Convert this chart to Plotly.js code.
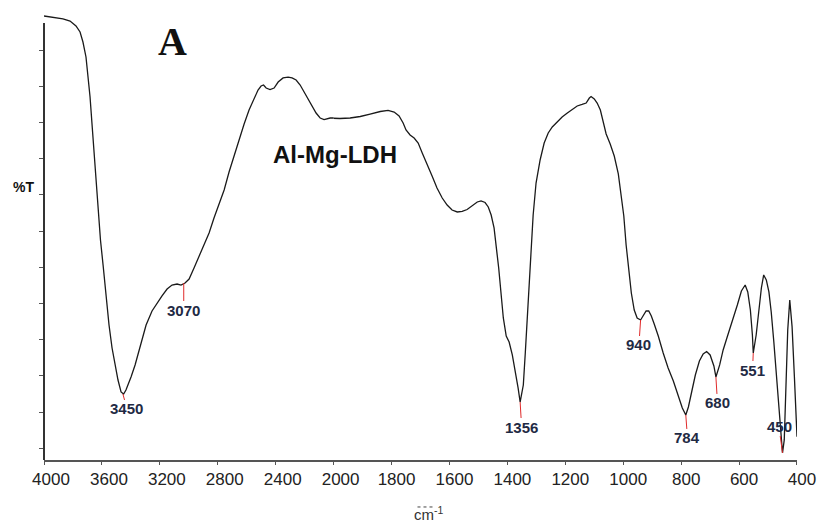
<!DOCTYPE html>
<html>
<head>
<meta charset="utf-8">
<script src="https://cdn.plot.ly/plotly-3.0.1.min.js"></script>
<style>html,body{margin:0;padding:0;background:#fff;}#chart{width:817px;height:522px;}</style>
</head>
<body>
<div id="chart"></div>
<script>
// Wavenumber (cm-1) and transmittance (arbitrary %T units)
var wavenumber = [4000,3869,3820,3779,3751,3731,3710,3696,3682,3668,3655,3637,3623,3610,3592,3572,3551,3530,3509,3489,3468,3450,3434,3420,3399,3371,3337,3295,3254,3219,3185,3150,3116,3081,3054,3026,2998,2964,2929,2895,2860,2826,2791,2756,2722,2687,2653,2618,2584,2549,2522,2501,2484,2466,2439,2411,2383,2349,2314,2287,2259,2231,2204,2176,2149,2121,2093,2066,2024,1978,1943,1908,1874,1839,1812,1791,1774,1760,1750,1736,1722,1708,1694,1677,1660,1643,1625,1608,1591,1573,1556,1539,1522,1504,1491,1477,1466,1456,1446,1437,1430,1423,1414,1404,1394,1383,1373,1363,1356,1345,1338,1332,1325,1318,1311,1301,1287,1273,1259,1245,1228,1211,1193,1176,1159,1142,1128,1117,1111,1100,1090,1079,1069,1059,1045,1031,1017,1007,998,990,981,972,962,952,940,931,921,912,903,893,879,862,845,827,810,796,784,775,763,751,737,724,712,700,687,680,667,655,641,624,606,592,579,570,561,554,551,541,532,523,515,506,497,489,480,472,463,456,450,444,437,432,425,417,409,400];
var transmittance = [59.71,59.30,59.02,58.33,57.50,56.12,54.05,51.56,48.52,44.65,40.92,36.09,32.22,28.77,25.32,21.17,17.03,13.85,11.51,9.43,7.78,7.50,8.05,8.74,9.85,11.51,13.99,17.03,18.96,20.07,21.04,22.00,22.55,22.69,22.55,22.83,23.38,24.90,26.56,27.94,29.74,31.81,33.88,35.68,38.16,40.51,42.58,44.79,46.73,48.38,49.49,50.04,50.18,49.76,49.56,49.76,50.59,51.15,51.28,51.15,50.87,50.18,49.21,48.25,47.28,46.31,45.62,45.41,45.62,45.55,45.62,45.83,46.17,46.52,46.66,46.45,45.90,44.93,43.96,43.27,42.86,42.17,40.79,39.27,37.61,35.95,34.57,33.60,32.91,32.64,32.71,32.98,33.47,34.02,34.16,33.95,33.33,32.22,30.43,27.67,24.90,21.86,18.00,15.51,14.68,12.89,10.81,8.33,6.39,8.74,13.30,17.72,21.86,26.28,32.22,36.64,39.82,42.17,43.55,44.38,45.07,45.76,46.31,46.86,47.28,47.49,47.69,48.38,48.59,48.25,47.69,46.73,45.21,43.41,42.03,40.37,37.89,34.99,32.09,28.08,24.63,21.45,19.10,18.00,17.72,18.27,18.96,18.96,18.27,17.17,15.51,13.16,11.09,9.30,7.22,5.57,4.60,5.70,7.91,10.12,12.06,13.02,13.37,12.89,11.37,9.85,11.51,13.58,15.37,17.44,19.79,21.73,22.55,21.59,19.10,15.65,13.16,15.65,18.83,22.14,23.94,23.25,21.59,18.83,14.68,10.81,6.67,2.80,-0.65,1.15,9.02,16.34,20.48,16.80,9.89,1.60];

var ticksHigh = [4000,3600,3200,2800,2400,2000];
var ticksLow = [1800,1600,1400,1200,1000,800,600,400];
var yTicks = [0,5,10,15,20,25,30,35,40,45,50,55];

var peakLabels = ['3450','3070','1356','940','784','680','551','450'];
var peakPos = [3455,3035,1356,940,784,680,551,450];

var sampleName = 'Al-Mg-LDH';
var panelLetter = 'A';
var yTitle = '%T';
var xTitle = 'cm<sup>-1</sup>';

// label offsets (px) relative to each peak marker
var labelOffsets = [[4,15],[0,27],[1.5,25],[-1.7,25],[1.7,23],[1.6,26],[-0.7,17],[-3.5,-26]];

function nearestT(w){
  var best=0, bd=1e9;
  for (var i=0;i<wavenumber.length;i++){
    var d=Math.abs(wavenumber[i]-w);
    if(d<bd){bd=d;best=i;}
  }
  return transmittance[best];
}

var lineStyle = {color:'#1a1a1a', width:1.3};
var traces = [
  {x:wavenumber, y:transmittance, type:'scatter', mode:'lines', line:lineStyle, xaxis:'x', yaxis:'y', hoverinfo:'skip'},
  {x:wavenumber, y:transmittance, type:'scatter', mode:'lines', line:lineStyle, xaxis:'x2', yaxis:'y', hoverinfo:'skip'}
];

var YMIN = -1.62, YMAX = 60.54;
var tickFont = {family:'Liberation Sans, Arial, sans-serif', size:17, color:'#222'};
var xCommon = {
  showline:true, linecolor:'#555', linewidth:1.5, ticks:'outside', ticklen:3, tickcolor:'#555', tickwidth:1,
  showgrid:false, zeroline:false, tickfont:tickFont, anchor:'y', fixedrange:true, ticklabeloverflow:'allow'
};

var annotations = [];
for (var i=0;i<peakLabels.length;i++){
  var w = peakPos[i];
  annotations.push({
    x:w, y:nearestT(w), xref: w>=2000?'x':'x2', yref:'y',
    text:peakLabels[i], showarrow:true, arrowhead:0, arrowwidth:1, arrowcolor:'#e02a2a',
    ax:labelOffsets[i][0], ay:labelOffsets[i][1], standoff:0, borderpad:0,
    font:{family:'Liberation Sans, Arial, sans-serif', size:15, color:'#1f2a44', weight:'bold'}
  });
}
annotations.push({xref:'paper', yref:'paper', x:0.170, y:0.929, xanchor:'center', yanchor:'middle', showarrow:false,
  text:'<b>'+panelLetter+'</b>', font:{family:'Liberation Serif, Times New Roman, serif', size:40, color:'#111'}});
annotations.push({xref:'paper', yref:'paper', x:0.3865, y:0.678, xanchor:'center', yanchor:'middle', showarrow:false,
  text:'<b>'+sampleName+'</b>', font:{family:'Liberation Sans, Arial, sans-serif', size:24, color:'#111'}});
annotations.push({xref:'paper', yref:'paper', x:-0.0266, y:0.607, xanchor:'center', yanchor:'middle', showarrow:false,
  text:'<b>'+yTitle+'</b>', font:{family:'Liberation Sans, Arial, sans-serif', size:14, color:'#111'}});
annotations.push({xref:'paper', yref:'paper', x:0.511, y:-0.118, xanchor:'center', yanchor:'middle', showarrow:false,
  text:xTitle, font:{family:'Liberation Sans, Arial, sans-serif', size:15, color:'#333'}});

var layout = {
  width:817, height:522,
  margin:{l:44, r:20, t:10, b:62},
  paper_bgcolor:'#fff', plot_bgcolor:'#fff',
  showlegend:false,
  xaxis: Object.assign({}, xCommon, {domain:[0,5/13], range:[4000,2000], tickmode:'array', tickvals:ticksHigh, ticktext:ticksHigh.map(String), ticklabelshift:-7}),
  xaxis2: Object.assign({}, xCommon, {domain:[5/13,1], range:[2000,400], tickmode:'array', tickvals:ticksLow, ticktext:ticksLow.map(String), ticklabelshift:-5}),
  yaxis: {range:[YMIN,YMAX], showline:false, ticks:'outside', ticklen:4, tickcolor:'#555', tickwidth:1,
    tickmode:'array', tickvals:yTicks, showticklabels:false, showgrid:false, zeroline:false, fixedrange:true},
  shapes:[
    {type:'line', xref:'paper', yref:'y', x0:0, x1:0, y0:YMIN, y1:58.74, line:{color:'#333', width:2}},
    {type:'line', xref:'paper', yref:'paper', x0:0.496, x1:0.519, y0:-0.1044, y1:-0.1044, line:{color:'#444', width:1, dash:'dot'}}
  ],
  annotations:annotations
};

Plotly.newPlot('chart', traces, layout, {displayModeBar:false, staticPlot:true});
</script>
</body>
</html>
